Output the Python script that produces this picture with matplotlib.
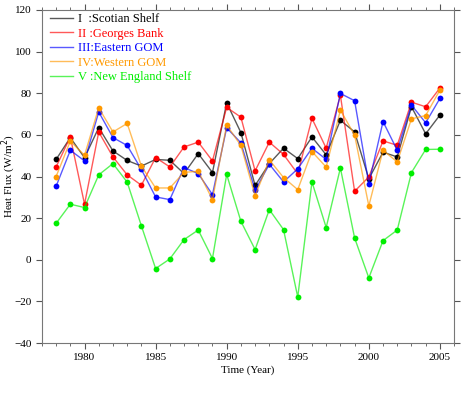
import matplotlib.pyplot as plt
import numpy as np

plt.rcParams["font.family"] = ["Liberation Serif", "DejaVu Serif"]

years = np.arange(1978, 2006)

scotian_shelf = [48.2, 58.7, 49.0, 63.5, 52.3, 47.7, 45.0, 48.2, 47.8, 41.4, 51.0, 41.9, 75.4, 61.1,
                 35.7, 46.2, 53.6, 48.6, 59.0, 50.4, 67.0, 61.4, 38.9, 51.7, 49.4, 73.5, 60.5, 69.5]
georges_bank = [44.6, 59.0, 26.7, 61.4, 49.4, 40.8, 35.8, 49.1, 44.6, 54.2, 56.5, 47.5, 73.2, 68.5,
                42.7, 56.5, 50.6, 41.3, 67.9, 53.6, 79.0, 32.9, 39.8, 57.1, 55.0, 75.7, 73.5, 82.5]
eastern_gom = [35.3, 52.6, 47.5, 71.0, 58.7, 54.9, 43.4, 30.2, 28.9, 44.3, 41.4, 31.3, 63.4, 56.2,
               33.4, 45.9, 37.4, 43.7, 53.6, 48.2, 79.9, 76.4, 36.6, 66.4, 52.6, 74.3, 65.8, 77.5]
western_gom = [40.0, 57.0, 50.2, 73.0, 61.4, 65.5, 45.0, 34.5, 34.5, 42.0, 42.5, 28.9, 64.7, 54.9,
               30.7, 48.0, 39.5, 33.7, 52.0, 44.5, 71.9, 59.9, 25.9, 52.6, 47.0, 67.7, 69.3, 81.5]
new_england_shelf = [17.5, 26.7, 25.1, 40.8, 46.2, 37.3, 16.3, -4.2, 0.4, 9.7, 14.3, 0.6, 41.0, 18.5,
                     4.9, 24.1, 14.5, -17.9, 37.4, 15.5, 44.1, 10.5, -8.7, 9.2, 14.3, 41.9, 53.0, 53.1]

labels = ["I  :Scotian Shelf", "II :Georges Bank", "III:Eastern GOM",
          "IV:Western GOM", "V :New England Shelf"]
colors = ["#000000", "#ff0000", "#0000ff", "#ff9900", "#00ee00"]
series = [scotian_shelf, georges_bank, eastern_gom, western_gom, new_england_shelf]

fig = plt.figure(figsize=(4.76, 3.98), dpi=100)
ax = fig.add_axes([0.088, 0.138, 0.866, 0.837])

for values, color, label in zip(series, colors, labels):
    ax.plot(years, values, color=color, linewidth=1.0, alpha=0.65, label=label)
    ax.plot(years, values, "o", color=color, markersize=4.2, markeredgewidth=0)

ax.set_xlim(1977, 2006)
ax.set_ylim(-40, 120)
ax.set_xticks(np.arange(1980, 2006, 5))
ax.set_xticks(np.arange(1977, 2007), minor=True)
ax.set_yticks(np.arange(-40, 121, 20))
ax.tick_params(which="both", direction="out", top=True, right=True,
               labelsize=8, color="#555555")
ax.tick_params(which="major", length=4)
ax.tick_params(which="minor", length=2)
for spine in ax.spines.values():
    spine.set_color("#777777")

ax.set_xlabel("Time (Year)", fontsize=8, labelpad=2)
ax.set_ylabel("Heat Flux (W/m$^2$)", fontsize=8)
ax.yaxis.set_label_coords(-0.058, 0.5)

leg = ax.legend(loc="upper left", bbox_to_anchor=(0.02, 0.99), frameon=False,
                fontsize=9, handlelength=1.8, handletextpad=0.4,
                labelspacing=0.2, borderaxespad=0.0, borderpad=0.0)
for text, color in zip(leg.get_texts(), colors):
    text.set_color(color)

fig.savefig("out.png", dpi=100)
